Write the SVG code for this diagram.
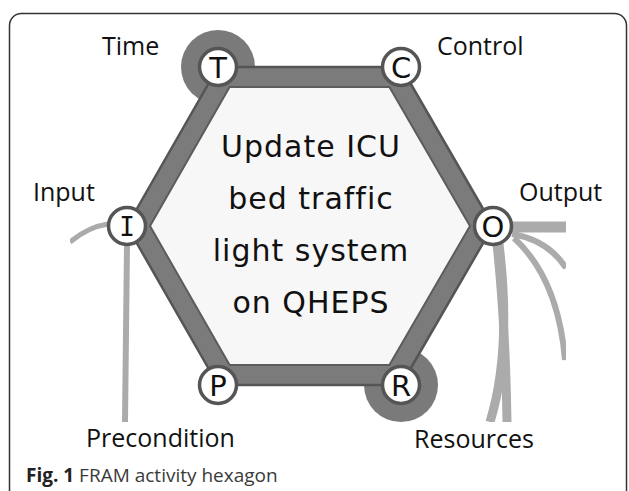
<svg xmlns="http://www.w3.org/2000/svg" width="629" height="491" viewBox="0 0 629 491">
  <defs>
    <style>
      .lbl { font-family: "Open Sans", "Liberation Sans", sans-serif; font-size: 25px; fill: #111; }
      .ctr { font-family: "DejaVu Sans", "Liberation Sans", sans-serif; font-size: 30px; fill: #111; text-anchor: middle; letter-spacing: 1px; }
      .ltr { font-family: "DejaVu Sans", "Liberation Sans", sans-serif; font-size: 29px; fill: #111; text-anchor: middle; }
      .node { fill: #ffffff; stroke: #555555; stroke-width: 3.5; }
      .ring { fill: #7a7a7a; }
      .conn { fill: none; stroke: #ababab; stroke-linecap: butt; }
      .cap { font-family: "Open Sans", "Liberation Sans", sans-serif; font-size: 19px; fill: #3a3a3a; }
    </style>
    <clipPath id="clip">
      <rect x="70" y="28" width="496" height="394"/>
    </clipPath>
  </defs>
  <rect x="0" y="0" width="629" height="491" fill="#ffffff"/>
  <rect x="9.5" y="13.5" width="617" height="500" rx="12" ry="12" fill="none" stroke="#333333" stroke-width="1.5"/>

  <g id="connectors" clip-path="url(#clip)">
    <path class="conn" d="M 108 224 Q 88 227 70 242" stroke-width="5"/>
    <path class="conn" d="M 127 245 L 125 422" stroke-width="6"/>
    <path class="conn" d="M 508 227 L 566 227" stroke-width="11"/>
    <path class="conn" d="M 512 234 Q 548 240 566 268" stroke-width="6"/>
    <path class="conn" d="M 514 238 C 540 262 560 300 565 360" stroke-width="6"/>
    <path class="conn" d="M 497 244 C 503 300 506 360 507 422" stroke-width="9"/>
    <path class="conn" d="M 499 244 C 507 310 506 370 490 422" stroke-width="9"/>
    <circle class="ring" cx="218" cy="67" r="37"/>
    <circle class="ring" cx="401" cy="385" r="37"/>
  </g>

  <g id="hexagon">
    <polygon points="218,67 401,67 493,226 401,385 218,385 127,226" fill="#7b7b7b" stroke="#555555" stroke-width="2.5" stroke-linejoin="round"/>
    <polygon points="229.6,87 389.4,87 470,226 389.4,365 229.6,365 150,226" fill="#f7f7f7" stroke="#5c5c5c" stroke-width="2"/>
    <text class="ctr" x="311" y="157">Update ICU</text>
    <text class="ctr" x="311" y="209">bed traffic</text>
    <text class="ctr" x="311" y="261">light system</text>
    <text class="ctr" x="311" y="313">on QHEPS</text>
  </g>

  <g id="node-T">
    <circle class="node" cx="218" cy="67" r="18.5"/>
    <text class="ltr" x="218" y="77.5">T</text>
    <text class="lbl" x="102" y="55">Time</text>
  </g>
  <g id="node-C">
    <circle class="node" cx="401" cy="67" r="18.5"/>
    <text class="ltr" x="401" y="77.5">C</text>
    <text class="lbl" x="437" y="55">Control</text>
  </g>
  <g id="node-I">
    <circle class="node" cx="127" cy="226" r="18.5"/>
    <text class="ltr" x="127" y="236" style="font-family: 'DejaVu Sans Mono', monospace; font-size: 26px;">I</text>
    <text class="lbl" x="33" y="201">Input</text>
  </g>
  <g id="node-O">
    <circle class="node" cx="493" cy="226" r="18.5"/>
    <text class="ltr" x="493" y="236.5">O</text>
    <text class="lbl" x="519" y="201">Output</text>
  </g>
  <g id="node-P">
    <circle class="node" cx="218" cy="385" r="18.5"/>
    <text class="ltr" x="218" y="395.5">P</text>
    <text class="lbl" x="86" y="447">Precondition</text>
  </g>
  <g id="node-R">
    <circle class="node" cx="401" cy="385" r="18.5"/>
    <text class="ltr" x="401" y="395.5">R</text>
    <text class="lbl" x="414" y="448">Resources</text>
  </g>

  <text class="cap" x="26" y="482"><tspan font-weight="bold" fill="#222222">Fig. 1</tspan> FRAM activity hexagon</text>
</svg>
